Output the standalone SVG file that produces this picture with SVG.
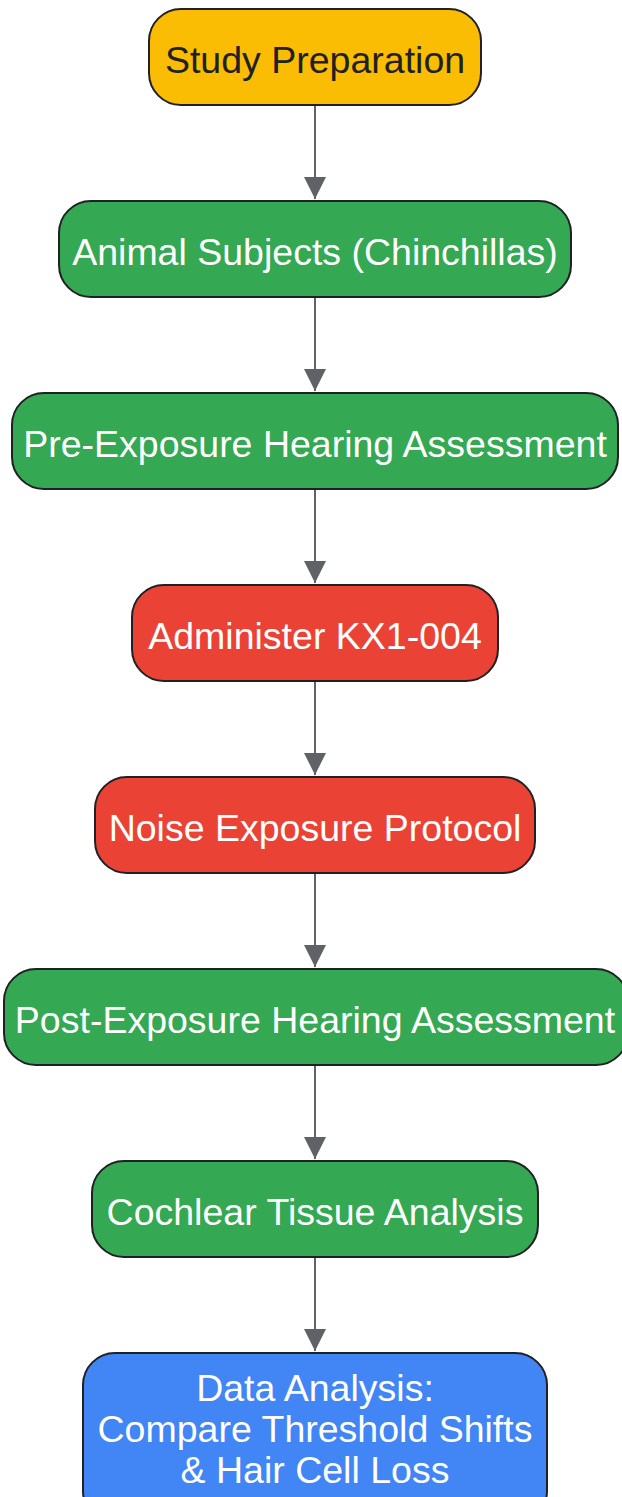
<svg xmlns="http://www.w3.org/2000/svg" width="622" height="1497" viewBox="0 0 622 1497">
<style>
.n{stroke:#202124;stroke-width:2}
.t{font-family:"Liberation Sans",Arial,sans-serif;font-size:37.5px;text-anchor:middle;fill:#fff}
.c{stroke:#5f6368;stroke-width:2;fill:none}
</style>
<defs>
<marker id="ah" markerUnits="userSpaceOnUse" markerWidth="24" markerHeight="32" refX="22" refY="11" orient="auto" viewBox="0 0 24 22">
<path d="M0,0 L22,11 L0,22 Z" fill="#5f6368"/>
</marker>
</defs>
<rect width="622" height="1497" fill="#fff"/>
<g id="connectors">
<path class="c" d="M315,105 V199" marker-end="url(#ah)"/>
<path class="c" d="M315,297 V391" marker-end="url(#ah)"/>
<path class="c" d="M315,489 V583" marker-end="url(#ah)"/>
<path class="c" d="M315,681 V775" marker-end="url(#ah)"/>
<path class="c" d="M315,873 V967" marker-end="url(#ah)"/>
<path class="c" d="M315,1065 V1159" marker-end="url(#ah)"/>
<path class="c" d="M315,1257 V1351" marker-end="url(#ah)"/>
</g>
<g id="n1"><rect class="n" x="149" y="9" width="332" height="96" rx="32" fill="#fbbc04"/><text class="t" x="315" y="72.5" style="fill:#202124">Study Preparation</text></g>
<g id="n2"><rect class="n" x="59" y="201" width="512" height="96" rx="32" fill="#34a853"/><text class="t" x="315" y="264.5">Animal Subjects (Chinchillas)</text></g>
<g id="n3"><rect class="n" x="12" y="393" width="606" height="96" rx="32" fill="#34a853"/><text class="t" x="315" y="456.5">Pre-Exposure Hearing Assessment</text></g>
<g id="n4"><rect class="n" x="132" y="585" width="366" height="96" rx="32" fill="#ea4335"/><text class="t" x="315" y="648.5">Administer KX1-004</text></g>
<g id="n5"><rect class="n" x="95" y="777" width="440" height="96" rx="32" fill="#ea4335"/><text class="t" x="315" y="840.5">Noise Exposure Protocol</text></g>
<g id="n6"><rect class="n" x="4" y="969" width="624" height="96" rx="32" fill="#34a853"/><text class="t" x="315" y="1032.5">Post-Exposure Hearing Assessment</text></g>
<g id="n7"><rect class="n" x="92" y="1161" width="446" height="96" rx="32" fill="#34a853"/><text class="t" x="315" y="1224.5">Cochlear Tissue Analysis</text></g>
<g id="n8"><rect class="n" x="83" y="1353" width="464" height="170" rx="32" fill="#4285f4"/><text class="t" x="315" y="1401">Data Analysis:</text><text class="t" x="315" y="1442">Compare Threshold Shifts</text><text class="t" x="315" y="1483">&amp; Hair Cell Loss</text></g>
</svg>
